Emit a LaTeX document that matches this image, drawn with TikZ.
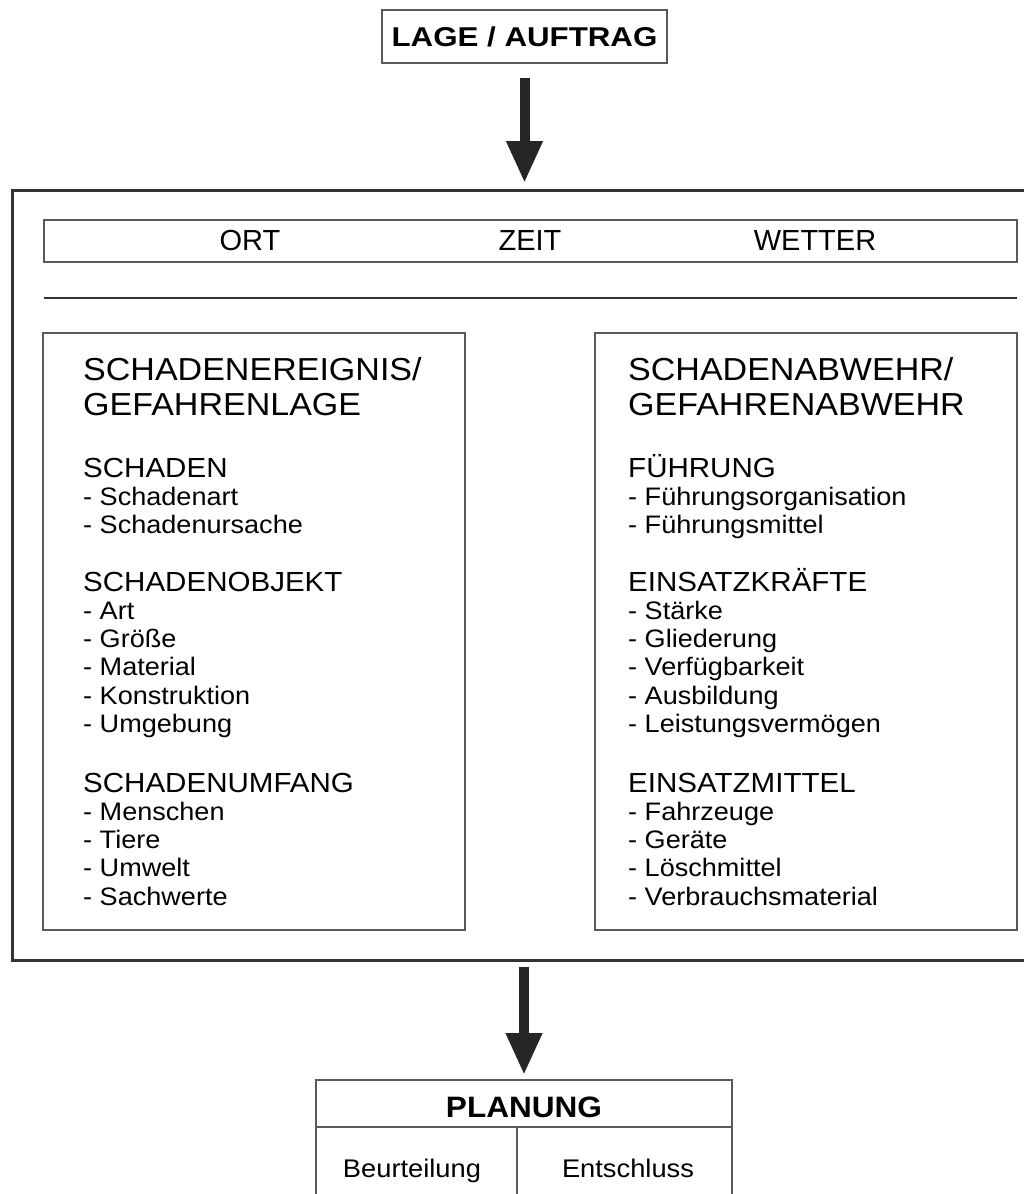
\documentclass[tikz,border=0pt]{standalone}
\usepackage{fontspec}
\setmainfont[FakeStretch=1.07]{Liberation Sans}
\newfontfamily\plainsans{Liberation Sans}
\newfontfamily\widesans[FakeStretch=1.15]{Liberation Sans}
\usetikzlibrary{arrows.meta}
\definecolor{framec}{HTML}{333333}
\definecolor{boxc}{HTML}{5A5A5A}
\definecolor{arrowc}{HTML}{262626}
\begin{document}
\begin{tikzpicture}[x=1pt,y=-1pt,
  txt/.style={inner sep=0pt, anchor=base west, text=black},
  hd/.style={txt, font=\fontsize{31.8}{32}\selectfont},
  sub/.style={txt, font=\fontsize{27.6}{28}\selectfont},
  itm/.style={txt, font=\fontsize{25.3}{26}\selectfont},
  otz/.style={inner sep=0pt, anchor=base, text=black, font=\plainsans\fontsize{29}{29}\selectfont},
  thinbox/.style={draw=boxc, line width=1.3pt, inner sep=0pt},
  bigarrow/.style={draw=arrowc, line width=10pt, -{Triangle[width=34pt,length=42pt]}, fill=arrowc},
  heavy/.style={draw=framec, line width=3pt},
]
\useasboundingbox[fill=white] (0,0) rectangle (1024,1194);

% top box
\node[thinbox, minimum width=285pt, minimum height=53pt,
      font=\widesans\bfseries\fontsize{27.2}{27}\selectfont] (lage) at (524.5,36.5) {LAGE / AUFTRAG};

% outer frame
\coordinate (ftop) at (524.5,190);
\coordinate (fbot) at (524,960);
\draw[heavy] (1024,190) -- (12,190) -- (12,960) -- (1024,960);

\draw[bigarrow, shorten <=14pt, shorten >=7pt] (lage.south) -- (ftop);

% ORT ZEIT WETTER
\node[thinbox, minimum width=973pt, minimum height=42pt] (otzbox) at (530.5,241) {};
\node[otz] (ort) at (250,250) {ORT};
\node[otz] (zeit) at (530,250) {ZEIT};
\node[otz] (wetter) at (815,250) {WETTER};

\coordinate (sepL) at (44,298);
\coordinate (sepR) at (1017,298);
\draw[draw=framec, line width=2.7pt] (sepL) -- (sepR);

% left and right boxes
\node[thinbox, minimum width=422pt, minimum height=597pt] (lbox) at (254,631.5) {};
\node[thinbox, minimum width=422pt, minimum height=597pt] (rbox) at (806,631.5) {};

% left text
\node[hd] (l1) at (83,380) {SCHADENEREIGNIS/};
\node[hd] (l2) at (83,415) {GEFAHRENLAGE};
\node[sub] (l3) at (83,477) {SCHADEN};
\node[itm] (l4) at (83,505.3) {- Schadenart};
\node[itm] (l5) at (83,533.6) {- Schadenursache};
\node[sub] (l6) at (83,591) {SCHADENOBJEKT};
\node[itm] (l7) at (83,619.3) {- Art};
\node[itm] (l8) at (83,647.6) {- Größe};
\node[itm] (l9) at (83,675.9) {- Material};
\node[itm] (l10) at (83,704.2) {- Konstruktion};
\node[itm] (l11) at (83,732.5) {- Umgebung};
\node[sub] (l12) at (83,792) {SCHADENUMFANG};
\node[itm] (l13) at (83,820.3) {- Menschen};
\node[itm] (l14) at (83,848.6) {- Tiere};
\node[itm] (l15) at (83,876.9) {- Umwelt};
\node[itm] (l16) at (83,905.2) {- Sachwerte};

% right text
\node[hd] (r1) at (628,380) {SCHADENABWEHR/};
\node[hd] (r2) at (628,415) {GEFAHRENABWEHR};
\node[sub] (r3) at (628,477) {FÜHRUNG};
\node[itm] (r4) at (628,505.3) {- Führungsorganisation};
\node[itm] (r5) at (628,533.6) {- Führungsmittel};
\node[sub] (r6) at (628,591) {EINSATZKRÄFTE};
\node[itm] (r7) at (628,619.3) {- Stärke};
\node[itm] (r8) at (628,647.6) {- Gliederung};
\node[itm] (r9) at (628,675.9) {- Verfügbarkeit};
\node[itm] (r10) at (628,704.2) {- Ausbildung};
\node[itm] (r11) at (628,732.5) {- Leistungsvermögen};
\node[sub] (r12) at (628,792) {EINSATZMITTEL};
\node[itm] (r13) at (628,820.3) {- Fahrzeuge};
\node[itm] (r14) at (628,848.6) {- Geräte};
\node[itm] (r15) at (628,876.9) {- Löschmittel};
\node[itm] (r16) at (628,905.2) {- Verbrauchsmaterial};

% Planung box
\coordinate (plantop) at (524,1080);
\draw[bigarrow, shorten <=7pt, shorten >=5pt] (fbot) -- (plantop);
\draw[draw=boxc, line width=1.3pt] (316,1194) -- (316,1080) -- (732,1080) -- (732,1194);
\draw[draw=boxc, line width=1.3pt] (316,1127) -- (732,1127);
\draw[draw=boxc, line width=1.3pt] (517,1127) -- (517,1194);
\node[inner sep=0pt, anchor=base, font=\bfseries\fontsize{29.5}{30}\selectfont] (planung) at (524,1117) {PLANUNG};
\node[inner sep=0pt, anchor=base, font=\fontsize{25.5}{26}\selectfont] (beur) at (412,1177) {Beurteilung};
\node[inner sep=0pt, anchor=base, font=\fontsize{25.5}{26}\selectfont] (ent) at (628,1177) {Entschluss};
\end{tikzpicture}
\end{document}
